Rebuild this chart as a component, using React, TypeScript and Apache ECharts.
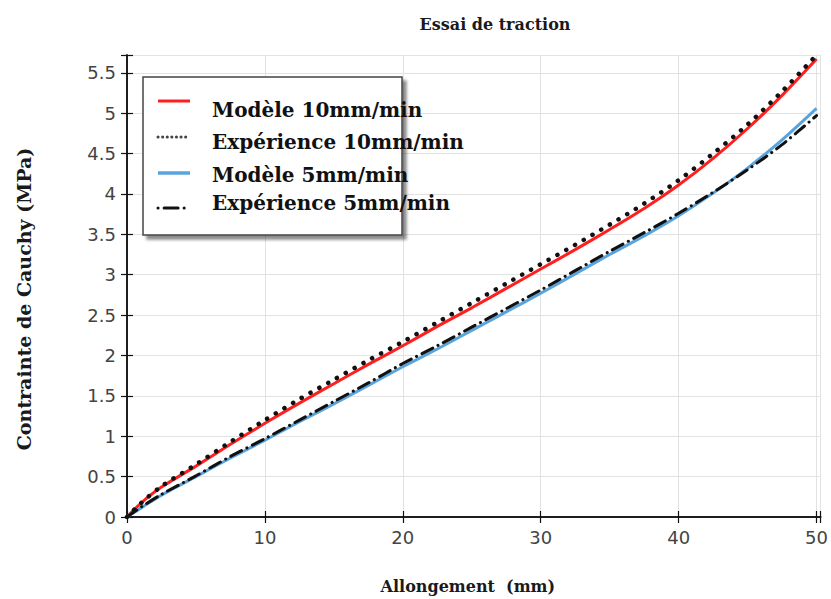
import React, { useEffect, useRef } from "react";
import * as echarts from "echarts";

const allongement = [0, 1, 2.5, 5, 7.5, 10, 12.5, 15, 17.5, 20, 22.5, 25, 27.5, 30, 32.5, 35, 37.5, 40, 42.5, 45, 47.5, 50];
const modele10 = [0, 0.17, 0.37, 0.63, 0.9, 1.16, 1.41, 1.65, 1.89, 2.12, 2.36, 2.59, 2.83, 3.07, 3.31, 3.56, 3.82, 4.11, 4.44, 4.81, 5.22, 5.67];
const experience10 = [0, 0.17, 0.38, 0.65, 0.93, 1.2, 1.46, 1.7, 1.94, 2.17, 2.41, 2.65, 2.89, 3.13, 3.37, 3.62, 3.88, 4.17, 4.5, 4.86, 5.27, 5.72];
const modele5 = [0, 0.11, 0.27, 0.5, 0.73, 0.95, 1.18, 1.4, 1.63, 1.86, 2.08, 2.31, 2.54, 2.77, 3.01, 3.25, 3.48, 3.73, 4.01, 4.32, 4.67, 5.06];
const experience5 = [0, 0.12, 0.28, 0.51, 0.75, 0.97, 1.2, 1.43, 1.66, 1.9, 2.12, 2.35, 2.58, 2.81, 3.05, 3.29, 3.52, 3.76, 4.02, 4.3, 4.61, 4.97];

const seriesNames = ["Modèle 10mm/min", "Expérience 10mm/min", "Modèle 5mm/min", "Expérience 5mm/min"];

const pairs = (ys: number[]) => allongement.map((x, i) => [x, ys[i]]);

export default function App() {
  const ref = useRef<HTMLDivElement>(null);
  useEffect(() => {
    if (!ref.current) return;
    const chart = echarts.init(ref.current, null, { renderer: "svg" });
    const frameAxis = {
      axisLine: { show: true, lineStyle: { color: "#111", width: 1.5 } },
      axisTick: { show: true, inside: true, length: 6, lineStyle: { color: "#111", width: 1.2 } },
    };
    const serif = "'DejaVu Serif', serif";
    const legendFont = { fontFamily: serif, fontWeight: "bold", fontSize: 20, fill: "#111" };
    const legendLineY = [101, 137, 173, 208];
    const legendTextY = [110, 142, 175, 203];
    const legendLineStyles = [
      { stroke: "#ff1f1f", lineWidth: 3 },
      { stroke: "#444", lineWidth: 3, lineDash: [0.1, 4.5], lineCap: "round" },
      { stroke: "#5aa4de", lineWidth: 3.5 },
      { stroke: "#111", lineWidth: 3, lineDash: [0.1, 6, 14, 6], lineCap: "round" },
    ];
    const legendGraphics: any[] = [];
    seriesNames.forEach((name, i) => {
      legendGraphics.push({
        type: "line",
        z: 6,
        shape: { x1: 158, y1: legendLineY[i], x2: 190, y2: legendLineY[i] },
        style: legendLineStyles[i],
      });
      legendGraphics.push({
        type: "text",
        z: 6,
        x: 212,
        y: legendTextY[i],
        style: { text: name, ...legendFont, align: "left", verticalAlign: "middle" },
      });
    });
    const lineSeries = (name: string, ys: number[], z: number, lineStyle: any) => ({
      name,
      type: "line",
      data: pairs(ys),
      showSymbol: false,
      symbol: "none",
      smooth: 0.3,
      z,
      lineStyle,
      itemStyle: { color: lineStyle.color },
    });
    chart.setOption({
      animation: false,
      backgroundColor: "#ffffff",
      title: {
        text: "Essai de traction",
        left: 490,
        top: 11,
        textAlign: "center",
        textStyle: { fontFamily: serif, fontWeight: "bold", fontSize: 16, color: "#1a1a1a" },
      },
      grid: { left: 127, right: 9, top: 55, bottom: 80 },
      xAxis: [
        {
          type: "value",
          min: 0,
          max: 50.3,
          interval: 10,
          position: "bottom",
          name: "Allongement  (mm)",
          nameLocation: "middle",
          nameGap: 61,
          nameTextStyle: {
            fontFamily: serif,
            fontWeight: "bold",
            fontSize: 16,
            color: "#1a1a1a",
            padding: [0, 12, 0, 0],
          },
          ...frameAxis,
          axisLabel: {
            fontFamily: "'DejaVu Sans', sans-serif",
            fontSize: 18,
            color: "#444",
            margin: 11,
            formatter: (v: number) => (Math.abs(v / 10 - Math.round(v / 10)) < 1e-6 ? String(v) : ""),
          },
          splitLine: { show: true, lineStyle: { color: "#e2e2e2", width: 1 } },
        },
        {
          type: "value",
          min: 0,
          max: 50.3,
          interval: 10,
          position: "top",
          ...frameAxis,
          axisLabel: { show: false },
          splitLine: { show: false },
        },
      ],
      yAxis: [
        {
          type: "value",
          min: 0,
          max: 5.72,
          interval: 0.5,
          position: "left",
          name: "Contrainte de Cauchy (MPa)",
          nameLocation: "middle",
          nameGap: 94,
          nameRotate: 90,
          nameTextStyle: {
            fontFamily: serif,
            fontWeight: "bold",
            fontSize: 19,
            color: "#1a1a1a",
            padding: [0, 26, 0, 0],
          },
          ...frameAxis,
          axisLabel: {
            fontFamily: "'DejaVu Sans', sans-serif",
            fontSize: 18,
            color: "#444",
            margin: 11,
            formatter: (v: number) => (Math.abs(v * 2 - Math.round(v * 2)) < 1e-6 ? String(v) : ""),
          },
          splitLine: { show: true, lineStyle: { color: "#e2e2e2", width: 1 } },
        },
        {
          type: "value",
          min: 0,
          max: 5.72,
          interval: 0.5,
          position: "right",
          ...frameAxis,
          axisLabel: { show: false },
          splitLine: { show: false },
        },
      ],
      graphic: [
        {
          type: "rect",
          z: 5,
          shape: { x: 143, y: 77, width: 259, height: 158 },
          style: {
            fill: "#ffffff",
            stroke: "#444",
            lineWidth: 1.5,
            shadowBlur: 3,
            shadowOffsetX: 4,
            shadowOffsetY: 4,
            shadowColor: "rgba(0,0,0,0.45)",
          },
        },
        ...legendGraphics,
      ],
      series: [
        lineSeries(seriesNames[0], modele10, 2, { color: "#ff1f1f", width: 3 }),
        lineSeries(seriesNames[2], modele5, 2, { color: "#5aa4de", width: 3 }),
        lineSeries(seriesNames[1], experience10, 3, { color: "#111", width: 4.5, type: [0.1, 10], cap: "round" }),
        lineSeries(seriesNames[3], experience5, 3, { color: "#111", width: 3, type: [12, 6, 0.1, 6], cap: "round" }),
      ],
    });
    return () => chart.dispose();
  }, []);
  return (
    <div
      ref={ref}
      style={{ position: "absolute", left: 0, top: 0, width: 831, height: 599 }}
    />
  );
}
